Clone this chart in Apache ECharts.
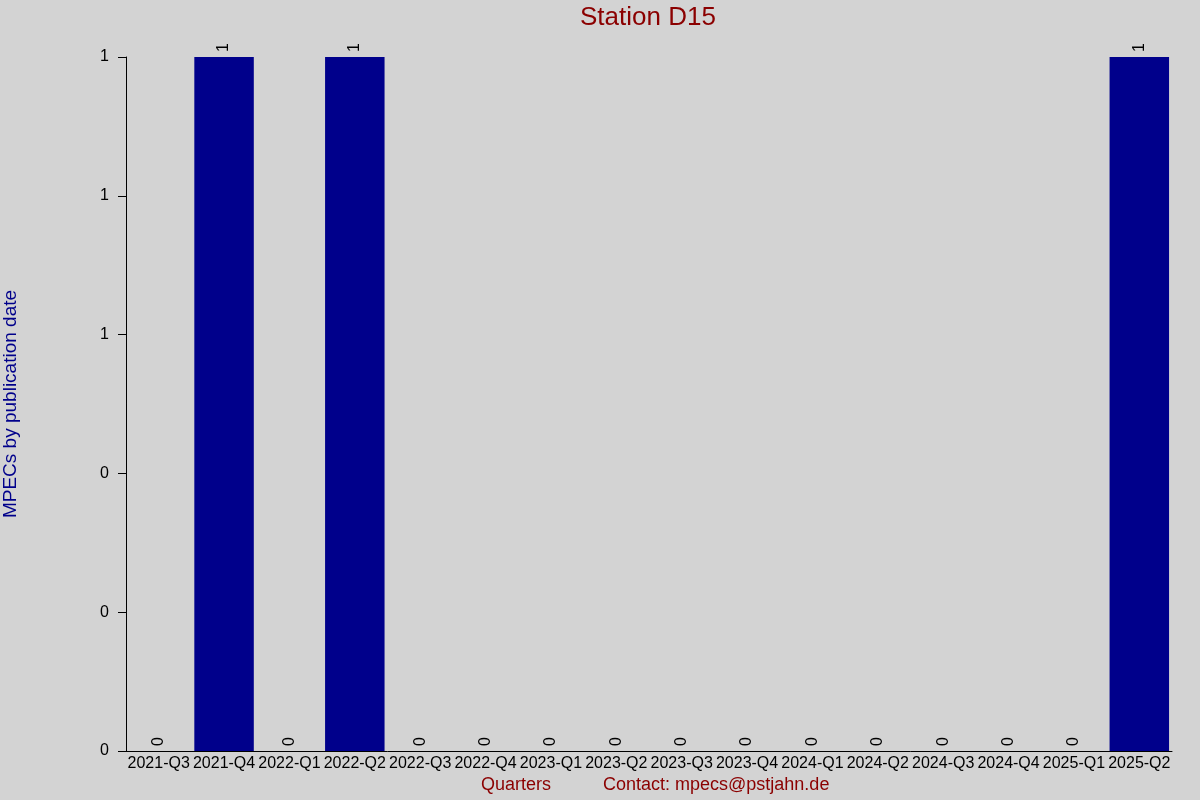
<!DOCTYPE html>
<html><head><meta charset="utf-8">
<script src="https://cdn.jsdelivr.net/npm/echarts@6/dist/echarts.min.js"></script>
<style>html,body{margin:0;padding:0;background:#d3d3d3}#c{width:1200px;height:800px}</style>
</head><body><div id="c"></div>
<script>
const categories = ['2021-Q3','2021-Q4','2022-Q1','2022-Q2','2022-Q3','2022-Q4','2023-Q1','2023-Q2','2023-Q3','2023-Q4','2024-Q1','2024-Q2','2024-Q3','2024-Q4','2025-Q1','2025-Q2'];
const mpecs = [0,1,0,1,0,0,0,0,0,0,0,0,0,0,0,1];
const titleText = 'Station D15';
const yName = 'MPECs by publication date';
const xName = 'Quarters';
const contactText = 'Contact: mpecs@pstjahn.de';

const chart = echarts.init(document.getElementById('c'), null, {renderer:'canvas'});
const F = 'Arial, "Liberation Sans", sans-serif';
chart.setOption({
  backgroundColor:'#d3d3d3',
  animation:false,
  title:{text:titleText,left:580,top:5,padding:0,textStyle:{color:'#8b0000',fontSize:26,fontWeight:'normal',fontFamily:F}},
  grid:{left:126,right:28,top:57,bottom:49,containLabel:false,outerBoundsMode:'none'},
  xAxis:{type:'category',data:categories,
    axisLine:{show:true,lineStyle:{color:'#000',width:1}},
    axisTick:{show:false},
    axisLabel:{color:'#000',fontSize:16,fontFamily:F,interval:0,margin:5}},
  yAxis:{type:'value',min:0,max:1,interval:0.2,
    name:yName,nameLocation:'middle',nameGap:106,nameRotate:90,
    nameTextStyle:{color:'#00008b',fontSize:19,fontFamily:F},
    axisLine:{show:true,lineStyle:{color:'#000',width:1}},
    axisTick:{show:true,length:8,lineStyle:{color:'#000'}},
    splitLine:{show:false},
    axisLabel:{color:'#000',fontSize:16,fontFamily:F,margin:17,formatter:v=>String(Math.round(v))}},
  series:[{type:'bar',data:mpecs,barCategoryGap:'9%',
    itemStyle:{color:'#00008b'},
    label:{show:true,position:'top',rotate:90,align:'left',verticalAlign:'middle',distance:5,color:'#000',fontSize:16,fontFamily:F}}],
  graphic:[
    {type:'text',left:481,top:776,style:{text:xName,fill:'#8b0000',font:'18px '+F}},
    {type:'text',left:603,top:776,style:{text:contactText,fill:'#8b0000',font:'18px '+F}}
  ]
});
</script></body></html>
